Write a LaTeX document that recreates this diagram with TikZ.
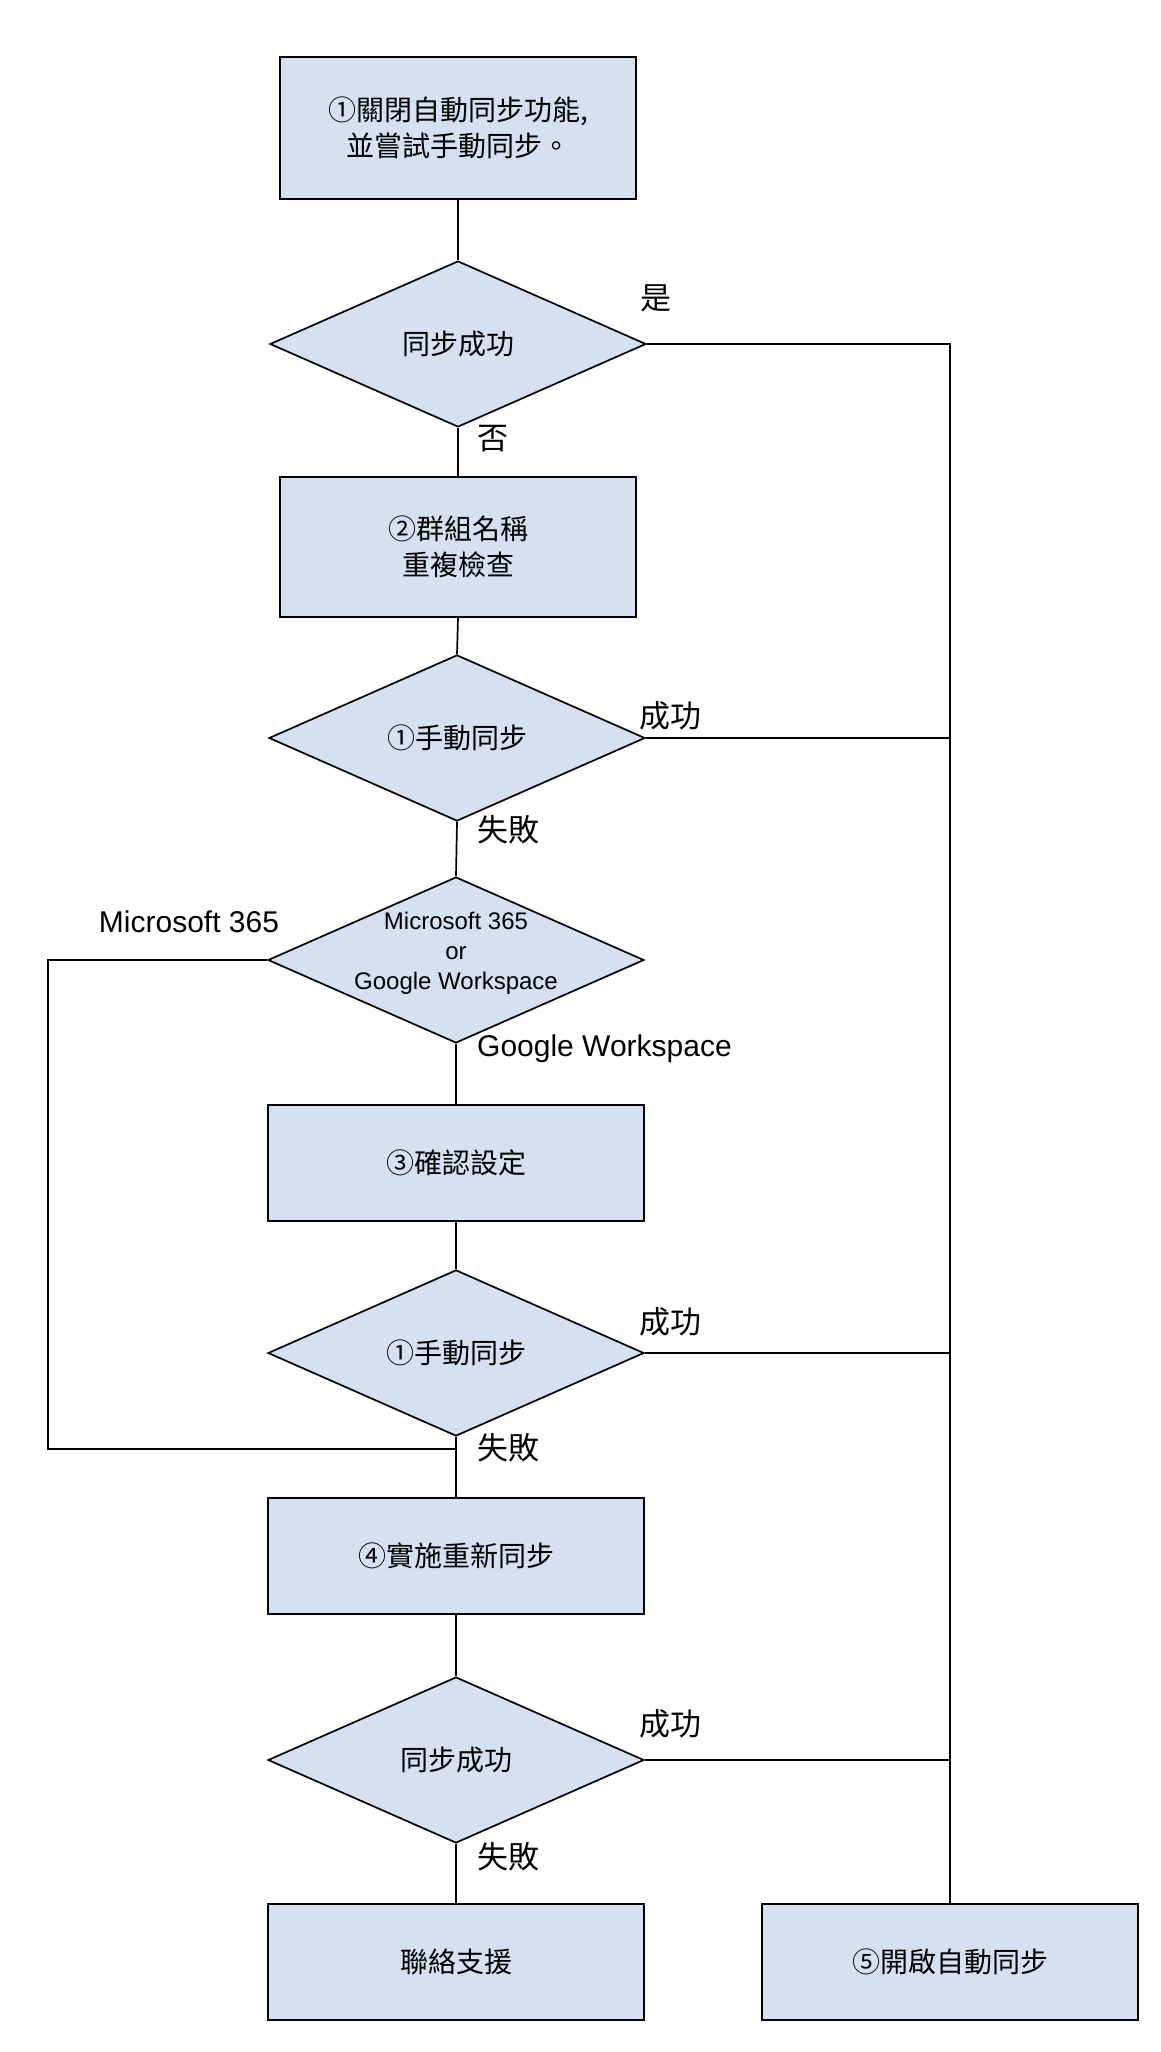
\documentclass[tikz,border=0pt]{standalone}
\usepackage{fontspec}
\setmainfont{Liberation Sans}
\newfontfamily\cjk{Noto Sans CJK TC}
\usetikzlibrary{shapes.geometric}
\definecolor{fillblue}{HTML}{D5E1F1}
\tikzset{
  base/.style={draw=black, line width=1.7pt, fill=fillblue, inner sep=0pt, align=center},
  procbox/.style={base, rectangle, font=\cjk\fontsize{28}{36}\selectfont},
  decision/.style={base, diamond, minimum width=376pt, minimum height=166pt, font=\cjk\fontsize{28}{36}\selectfont},
  conn/.style={line width=1.7pt, draw=black},
  lbl/.style={font=\cjk\fontsize{31}{36}\selectfont, inner sep=0pt, anchor=west},
  elbl/.style={font=\fontsize{30}{36}\selectfont, inner sep=0pt, anchor=west}
}
\begin{document}
\begin{tikzpicture}[x=1pt,y=-1pt]
\useasboundingbox (0,0) rectangle (1160,2052);
% nodes
\node[procbox, minimum width=356pt, minimum height=142pt] (b1) at (458,128) {①關閉自動同步功能,\\並嘗試手動同步。};
\node[decision] (d1) at (458,344) {同步成功};
\node[procbox, minimum width=356pt, minimum height=140pt] (b2) at (458,547) {②群組名稱\\重複檢查};
\node[decision] (d2) at (457,738) {①手動同步};
\node[decision] (d3) at (456,960) {};
\node[font=\fontsize{24}{30}\selectfont, align=center, inner sep=0pt] (d3t) at (456,953) {Microsoft 365\\or\\Google Workspace};
\node[procbox, minimum width=376pt, minimum height=116pt] (b3) at (456,1163) {③確認設定};
\node[decision] (d4) at (456,1353) {①手動同步};
\node[procbox, minimum width=376pt, minimum height=116pt] (b4) at (456,1556) {④實施重新同步};
\node[decision] (d5) at (456,1760) {同步成功};
\node[procbox, minimum width=376pt, minimum height=116pt] (b6) at (456,1962) {聯絡支援};
\node[procbox, minimum width=376pt, minimum height=116pt] (b5) at (950,1962) {⑤開啟自動同步};
% helper coordinates
\coordinate (L1) at (48,960);
\coordinate (L2) at (48,1449);
\coordinate (J) at (456,1449);
% connectors
\draw[conn] (b1.south) -- (d1.north);
\draw[conn] (d1.south) -- (b2.north);
\draw[conn] (b2.south) -- (d2.north);
\draw[conn] (d2.south) -- (d3.north);
\draw[conn] (d3.south) -- (b3.north);
\draw[conn] (b3.south) -- (d4.north);
\draw[conn] (d4.south) -- (b4.north);
\draw[conn] (b4.south) -- (d5.north);
\draw[conn] (d5.south) -- (b6.north);
\draw[conn] (d1.east) -| (b5.north);
\draw[conn] (d2.east) -- (d2.east -| b5.north);
\draw[conn] (d4.east) -- (d4.east -| b5.north);
\draw[conn] (d5.east) -- (d5.east -| b5.north);
\draw[conn] (d3.west) -- (L1) -- (L2) -- (J);
% labels
\node[lbl] (l1) at (640,298) {是};
\node[lbl] (l2) at (477,439) {否};
\node[lbl] (l3) at (639,716) {成功};
\node[lbl] (l4) at (477,830) {失敗};
\node[elbl, anchor=center] (l5) at (189,922) {Microsoft 365};
\node[elbl] (l6) at (477,1049) {Google Workspace};
\node[lbl] (l7) at (639,1322) {成功};
\node[lbl] (l8) at (477,1448) {失敗};
\node[lbl] (l9) at (639,1724) {成功};
\node[lbl] (l10) at (477,1857) {失敗};
\end{tikzpicture}
\end{document}
